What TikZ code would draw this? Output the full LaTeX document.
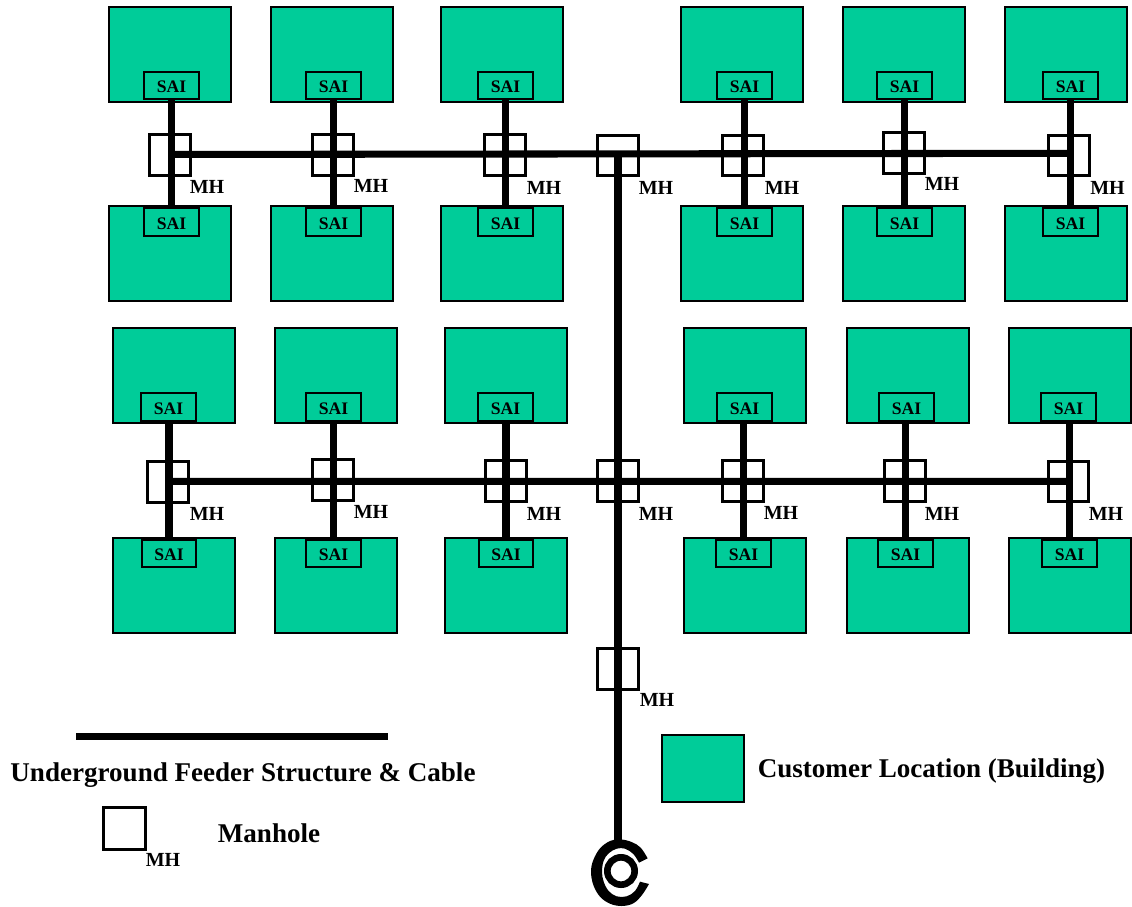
\documentclass[tikz,border=0pt]{standalone}
\usepackage{fontspec}
\setmainfont{Liberation Serif}
\definecolor{bldg}{HTML}{00CC99}
\tikzset{
  px/.style={x=0.75pt,y=-0.75pt},
  building/.style={draw=black,fill=bldg,line width=1.6pt,rectangle,inner sep=0pt,outer sep=0pt,minimum width=91.5pt,minimum height=71.25pt},
  saibox/.style={draw=black,fill=bldg,line width=1.4pt,rectangle,inner sep=0pt,outer sep=0pt,minimum width=41pt,minimum height=20.5pt,text height=10.8pt,text depth=0pt,font=\bfseries\fontsize{13.2}{13.2}\selectfont},
  manhole/.style={draw=black,line width=2.4pt,rectangle,inner sep=0pt,outer sep=0pt,minimum width=30.3pt,minimum height=30.3pt},
  mhlabel/.style={inner sep=0pt,font=\bfseries\fontsize{15}{15}\selectfont},
  legendtext/.style={inner sep=0pt,font=\bfseries\fontsize{20.3}{20.3}\selectfont},
  cable/.style={draw=black,line width=5.3pt},
}
\begin{document}
\begin{tikzpicture}[px]
\useasboundingbox (0,0) rectangle (1132,907);
% buildings: name / centre x / centre y
\foreach \n/\x in {1/170,2/332,3/502,4/742,5/904,6/1066}{
  \node[building] (A\n) at (\x,54.3) {};
  \node[building] (B\n) at (\x,253.4) {};
}
\foreach \n/\x in {1/174,2/336,3/506,4/745,5/908,6/1070}{
  \node[building] (C\n) at (\x,375.3) {};
  \node[building] (D\n) at (\x,585.5) {};
}
% SAI boxes
\foreach \n/\x in {1/171.5,2/333.5,3/505.5,4/744.5,5/904.5,6/1070.5}{
  \node[saibox] (SA\n) at (\x,85.5) {SAI};
  \node[saibox] (SB\n) at (\x,222) {SAI};
}
\foreach \n/\x in {1/168.5,2/333.5,3/505.5,4/744.5,5/906.5,6/1068.5}{
  \node[saibox] (SC\n) at (\x,407) {SAI};
}
\foreach \n/\x in {1/169,2/333.5,3/506,4/743.5,5/905.5,6/1069.5}{
  \node[saibox] (SD\n) at (\x,553.7) {SAI};
}
% manholes and labels
\foreach \n/\x/\y/\lx/\ly in {1/170/155/207/187,2/333/155/371/186,3/505/155/544/188,0/618/155.5/656/187.5,4/743/155.5/782/187.5,5/904/153/942/184,6/1069/155.3/1107.5/187.5}{
  \node[manhole] (MA\n) at (\x,\y) {};
  \node[mhlabel] (LA\n) at (\lx,\ly) {MH};
}
\foreach \n/\x/\y/\lx/\ly in {1/168/482/207/513.5,2/333/480/371/511.5,3/506/481/544/513.5,0/618/481/656/513.5,4/743/481/781/512.5,5/905/481/942/513.5,6/1068.3/481.5/1106/513.5}{
  \node[manhole] (MB\n) at (\x,\y) {};
  \node[mhlabel] (LB\n) at (\lx,\ly) {MH};
}
\node[manhole] (MC) at (618,669) {};
\node[mhlabel] (LC) at (657,700) {MH};
% cables
\foreach \n in {1,...,6}{
  \draw[cable] (SA\n.south) -- (SB\n.north);
  \draw[cable] (SD\n.north |- SC\n.south) -- (SD\n.north);
}
\draw[cable] ([yshift=0.4pt]MA1.center) -- ([yshift=1.5pt]MA6.center);
\draw[cable] ([yshift=0.5pt]MB1.center) -- ([yshift=0.1pt]MB6.center);
\coordinate (coiltop) at (618,842);
\draw[cable] (MA0.center) -- (coiltop);
% central office symbol, traced outline
\begin{scope}[shift={(560,780)},x=0.25pt,y=-0.25pt]
\fill[black] plot[smooth,tension=0.6] coordinates {(263,235) (242,203) (215,186) (180,178) (150,183) (120,205) (100,240) (93,275) (100,315) (120,350) (150,371) (185,378) (220,370) (246,345) (267,312)}
  -- plot[smooth,tension=0.6] coordinates {(240,305) (225,333) (200,349) (170,349) (146,333) (131,305) (126,275) (131,242) (146,220) (170,206) (195,206) (220,222) (237,248)} -- cycle;
\end{scope}
\node[draw=black,line width=5pt,circle,inner sep=0pt,outer sep=0pt,minimum size=20.5pt] (coilring) at (621,871) {};
% legend
\coordinate (legA) at (76,736.5);
\coordinate (legB) at (388,736.5);
\draw[cable] (legA) -- (legB);
\node[legendtext] (t1) at (243,775) {Underground Feeder Structure \& Cable};
\node[manhole,minimum width=31pt,minimum height=31pt] (legMH) at (124.5,828.5) {};
\node[mhlabel] (legMHl) at (163,860) {MH};
\node[legendtext] (t2) at (269,833) {Manhole};
\node[building,minimum width=61.5pt,minimum height=50.25pt] (legB1) at (703,768.5) {};
\node[legendtext] (t3) at (931.5,771) {Customer Location (Building)};
\end{tikzpicture}
\end{document}
